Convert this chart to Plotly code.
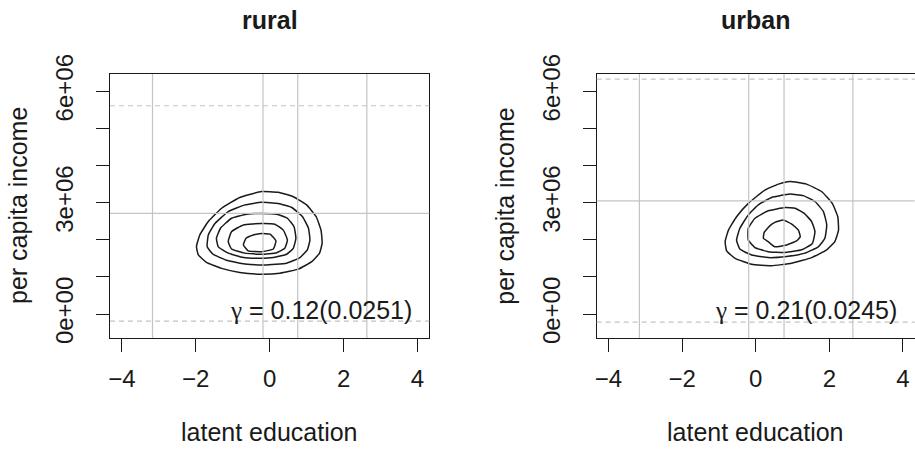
import plotly.graph_objects as go

# ---- data -------------------------------------------------------------
panels = ["rural", "urban"]
gamma_text = ["0.12(0.0251)", "0.21(0.0245)"]

# density contour paths (latent education, per capita income)
rural_contours = [
    ([-0.22, 0.23, 0.64, 1.00, 1.26, 1.39, 1.42, 1.35, 1.14, 0.78, 0.28, -0.22, -0.81, -1.30, -1.71, -1.93, -1.98, -1.89, -1.66, -1.30, -0.81],
     [3.30, 3.28, 3.16, 2.94, 2.62, 2.26, 1.91, 1.64, 1.41, 1.21, 1.10, 1.07, 1.12, 1.23, 1.39, 1.59, 1.82, 2.13, 2.49, 2.85, 3.14]),
    ([-0.22, 0.23, 0.60, 0.89, 1.05, 1.09, 1.02, 0.82, 0.46, -0.13, -0.67, -1.17, -1.53, -1.69, -1.66, -1.48, -1.12, -0.67],
     [3.01, 2.98, 2.87, 2.62, 2.31, 1.99, 1.73, 1.52, 1.37, 1.32, 1.35, 1.45, 1.61, 1.81, 2.13, 2.44, 2.76, 2.94]),
    ([-0.22, 0.19, 0.48, 0.66, 0.71, 0.64, 0.46, 0.10, -0.26, -0.71, -1.12, -1.39, -1.44, -1.33, -1.03, -0.62],
     [2.71, 2.69, 2.58, 2.35, 2.04, 1.77, 1.61, 1.52, 1.50, 1.52, 1.64, 1.81, 2.04, 2.31, 2.58, 2.69]),
    ([-0.22, 0.14, 0.37, 0.48, 0.41, 0.19, -0.22, -0.67, -1.03, -1.12, -1.03, -0.71],
     [2.44, 2.42, 2.26, 1.99, 1.77, 1.65, 1.61, 1.64, 1.75, 1.95, 2.22, 2.40]),
    ([-0.22, 0.01, 0.17, 0.10, -0.22, -0.58, -0.71, -0.64, -0.44],
     [2.17, 2.15, 1.97, 1.75, 1.68, 1.70, 1.86, 2.04, 2.13]),
]
urban_contours = [
    ([0.93, 1.38, 1.79, 2.08, 2.23, 2.25, 2.15, 1.93, 1.52, 0.98, 0.43, -0.11, -0.56, -0.79, -0.83, -0.74, -0.52, -0.20, 0.25, 0.62],
     [3.57, 3.50, 3.30, 2.98, 2.62, 2.26, 1.95, 1.73, 1.52, 1.37, 1.30, 1.34, 1.50, 1.70, 1.95, 2.26, 2.62, 2.98, 3.34, 3.50]),
    ([0.93, 1.29, 1.61, 1.84, 1.93, 1.88, 1.70, 1.34, 0.84, 0.34, -0.11, -0.43, -0.52, -0.43, -0.20, 0.07, 0.43],
     [3.23, 3.19, 3.03, 2.76, 2.40, 2.04, 1.81, 1.64, 1.55, 1.52, 1.59, 1.75, 1.99, 2.31, 2.67, 2.94, 3.14]),
    ([0.80, 1.07, 1.32, 1.52, 1.61, 1.54, 1.25, 0.80, 0.34, -0.02, -0.20, -0.20, -0.02, 0.34],
     [2.87, 2.85, 2.71, 2.49, 2.22, 1.90, 1.73, 1.66, 1.68, 1.79, 1.99, 2.31, 2.58, 2.78]),
    ([0.75, 0.98, 1.16, 1.21, 1.11, 0.84, 0.52, 0.34, 0.21, 0.23, 0.39, 0.52],
     [2.53, 2.42, 2.26, 2.08, 1.97, 1.86, 1.81, 1.95, 2.04, 2.20, 2.38, 2.47]),
]
income_scale = 1e6  # contour incomes above are in millions

# reference lines
vlines = [[-3.17, -0.18, 0.76, 2.63], [-3.16, -0.19, 0.77, 2.64]]
hline_solid = [2.71e6, 3.05e6]
hlines_dashed = [[5.61e6, -0.19e6], [6.33e6, -0.22e6]]

x_ticks = [-4, -2, 0, 2, 4]
x_ticktext = ["\u22124", "\u22122", "0", "2", "4"]
y_ticks = [0, 1e6, 2e6, 3e6, 4e6, 5e6, 6e6]
y_ticktext = ["0e+00", "", "", "3e+06", "", "", "6e+06"]
x_range = [-4.32, 4.32]
y_range = [-0.6466e6, 6.466e6]

# ---- layout geometry (pixels) ---------------------------------------
W, H = 915, 450
plot_left = [110.0, 596.7]
plot_right = [429.3, 914.7]
plot_top, plot_bottom = 74.0, 338.0

FONT = "Liberation Sans, Arial, Helvetica, sans-serif"
INK = "#1a1a1a"
GRID = "#c4c4c4"


def px(x):
    return x / W


def py(y):
    return 1 - y / H


fig = go.Figure()
shapes = []
annotations = []
contour_sets = [rural_contours, urban_contours]

for i, name in enumerate(panels):
    sfx = "" if i == 0 else str(i + 1)
    xa, ya = "x" + sfx, "y" + sfx

    for cx, cy in contour_sets[i]:
        xs = list(cx) + [cx[0]]
        ys = [v * income_scale for v in cy] + [cy[0] * income_scale]
        fig.add_trace(go.Scatter(
            x=xs, y=ys, mode="lines", xaxis=xa, yaxis=ya,
            line=dict(color=INK, width=1.5, shape="spline", smoothing=0.4),
            hoverinfo="skip", showlegend=False))

    for v in vlines[i]:
        shapes.append(dict(type="line", xref=xa, yref=ya + " domain",
                           x0=v, x1=v, y0=0, y1=1,
                           line=dict(color=GRID, width=1.2)))
    shapes.append(dict(type="line", xref=xa + " domain", yref=ya,
                       x0=0, x1=1, y0=hline_solid[i], y1=hline_solid[i],
                       line=dict(color=GRID, width=1.2)))
    for h in hlines_dashed[i]:
        shapes.append(dict(type="line", xref=xa + " domain", yref=ya,
                           x0=0, x1=1, y0=h, y1=h,
                           line=dict(color=GRID, width=1.2, dash="5px,4px")))

    dom_x = [px(plot_left[i]), px(plot_right[i])]
    dom_y = [py(plot_bottom), py(plot_top)]
    axis_common = dict(showline=True, mirror=True, linecolor=INK, linewidth=1.3,
                       ticks="outside", ticklen=13, tickwidth=1.3, tickcolor=INK,
                       showgrid=False, zeroline=False, automargin=False,
                       tickfont=dict(family=FONT, size=24, color=INK))
    fig.update_layout(**{
        "xaxis" + sfx: dict(domain=dom_x, range=x_range, anchor=ya,
                            tickmode="array", tickvals=x_ticks, ticktext=x_ticktext,
                            ticklabelstandoff=6, **axis_common),
        "yaxis" + sfx: dict(domain=dom_y, range=y_range, anchor=xa,
                            tickmode="array", tickvals=y_ticks, ticktext=y_ticktext,
                            tickangle=-90, ticklabelstandoff=13, **axis_common),
    })

    cx_px = (plot_left[i] + plot_right[i]) / 2
    annotations.append(dict(text="<b>" + name + "</b>", x=px(cx_px), y=py(20),
                            xref="paper", yref="paper", showarrow=False,
                            xanchor="center", yanchor="middle",
                            font=dict(family=FONT, size=25, color=INK)))
    annotations.append(dict(text="latent education", x=px(cx_px), y=py(432),
                            xref="paper", yref="paper", showarrow=False,
                            xanchor="center", yanchor="middle",
                            font=dict(family=FONT, size=25, color=INK)))
    annotations.append(dict(text="per capita income", x=px(plot_left[i] - 92),
                            y=py((plot_top + plot_bottom) / 2),
                            xref="paper", yref="paper", showarrow=False,
                            textangle=-90, xanchor="center", yanchor="middle",
                            font=dict(family=FONT, size=25, color=INK)))
    annotations.append(dict(
        text="<span style='font-family:Liberation Serif'>\u03b3</span> = " + gamma_text[i],
        x=3.9, y=0.1e6, xref=xa, yref=ya, showarrow=False,
        xanchor="right", yanchor="middle",
        font=dict(family=FONT, size=25, color=INK)))

fig.update_layout(width=W, height=H, autosize=False,
                  margin=dict(l=0, r=0, t=0, b=0, pad=0, autoexpand=False),
                  paper_bgcolor="white", plot_bgcolor="white",
                  shapes=shapes, annotations=annotations, showlegend=False)

fig.write_html("out.html")
